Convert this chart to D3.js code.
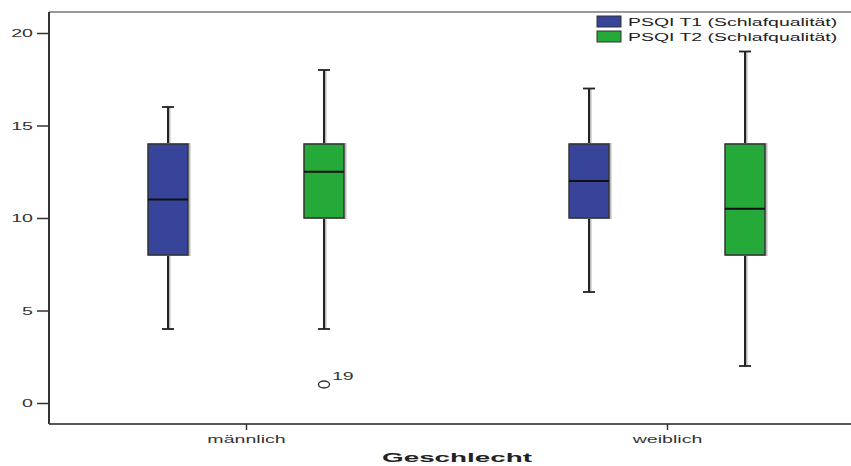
<!DOCTYPE html>
<html><head><meta charset="utf-8">
<script src="https://cdn.jsdelivr.net/npm/d3@7"></script>
<style>body{margin:0;background:#fff}svg{display:block}</style>
</head><body>
<svg id="c" width="851" height="466"></svg>
<script>
const groups = ["männlich", "weiblich"];
const seriesNames = ["PSQI T1 (Schlafqualität)", "PSQI T2 (Schlafqualität)"];
const seriesColors = ["#37449a", "#25a939"];
// [whiskerLow, q1, median, q3, whiskerHigh] per group
const t1Stats = [[4, 8, 11, 14, 16], [6, 10, 12, 14, 17]];
const t2Stats = [[4, 10, 12.5, 14, 18], [2, 8, 10.5, 14, 19]];
const outliers = [{group: "männlich", series: 1, value: 1, label: "19"}];
const yTicks = [0, 5, 10, 15, 20];

(function () {
const svg = d3.select("#c");
const L = 49, R = 851, T = 12, B = 424;
const SX = 1.78; // horizontal stretch of the text in the original picture
const y = d3.scaleLinear().domain([0, 20]).range([403, 33]);
const x = d3.scalePoint().domain(groups).range([L + 13, R]).padding(0.437);
const xs = d3.scalePoint().domain([0, 1]).range([-78, 78]);
const boxW = 40;
const font = "Liberation Sans, Arial, sans-serif";

function stretched(sel, px, py, sx) {
  return sel.attr("transform", `translate(${px},${py}) scale(${sx},1)`).attr("x", 0).attr("y", 0);
}

// frame
svg.append("line").attr("x1", L).attr("x2", R).attr("y1", T).attr("y2", T).attr("stroke", "#777").attr("stroke-width", 1.5);
svg.append("line").attr("x1", L).attr("x2", R).attr("y1", B).attr("y2", B).attr("stroke", "#555").attr("stroke-width", 2);
svg.append("line").attr("x1", L).attr("x2", L).attr("y1", T).attr("y2", B).attr("stroke", "#333").attr("stroke-width", 2);

// y axis
const yAxis = d3.axisLeft(y).tickValues(yTicks).tickSize(12).tickPadding(4);
const gy = svg.append("g").attr("transform", `translate(${L},0)`).call(yAxis);
gy.select(".domain").remove();
gy.selectAll(".tick line").attr("stroke", "#333").attr("stroke-width", 1.5);
gy.selectAll(".tick text").attr("font-family", font).attr("font-size", 11).attr("fill", "#333")
  .attr("dy", "0.36em").each(function () { stretched(d3.select(this), -16, 0, SX); });

// x axis
const xAxis = d3.axisBottom(x).tickSize(6).tickPadding(3);
const gx = svg.append("g").attr("transform", `translate(0,${B})`).call(xAxis);
gx.select(".domain").remove();
gx.selectAll(".tick line").attr("stroke", "#333").attr("stroke-width", 1.5);
gx.selectAll(".tick text").attr("font-family", font).attr("font-size", 11).attr("fill", "#333")
  .attr("dy", "0") .each(function () { stretched(d3.select(this), 0, 19, SX); });

stretched(svg.append("text"), 457, 462, 2.06).attr("text-anchor", "middle")
  .attr("font-family", font).attr("font-size", 13.5).attr("font-weight", "bold").attr("fill", "#222")
  .text("Geschlecht");

// boxes
const all = [];
groups.forEach((g, gi) => {
  [t1Stats, t2Stats].forEach((s, si) => all.push({g, si, s: s[gi]}));
});
const bx = d => x(d.g) + xs(d.si);
const cap = 6;
const gb = svg.append("g").selectAll("g").data(all).join("g");
gb.append("line").attr("x1", d => bx(d) + 1.5).attr("x2", d => bx(d) + 1.5)
  .attr("y1", d => y(d.s[4])).attr("y2", d => y(d.s[0])).attr("stroke", "#bbb").attr("stroke-width", 2);
gb.append("line").attr("x1", bx).attr("x2", bx)
  .attr("y1", d => y(d.s[4])).attr("y2", d => y(d.s[0])).attr("stroke", "#222").attr("stroke-width", 2);
[0, 4].forEach(k => {
  gb.append("line").attr("x1", d => bx(d) - cap).attr("x2", d => bx(d) + cap)
    .attr("y1", d => y(d.s[k])).attr("y2", d => y(d.s[k])).attr("stroke", "#222").attr("stroke-width", 1.8);
});
gb.append("rect").attr("x", d => bx(d) - boxW / 2 + 1.5).attr("width", boxW)
  .attr("y", d => y(d.s[3])).attr("height", d => y(d.s[1]) - y(d.s[3]))
  .attr("fill", "none").attr("stroke", "#bbb").attr("stroke-width", 2);
gb.append("rect").attr("x", d => bx(d) - boxW / 2).attr("width", boxW)
  .attr("y", d => y(d.s[3])).attr("height", d => y(d.s[1]) - y(d.s[3]))
  .attr("fill", d => seriesColors[d.si]).attr("stroke", "#333").attr("stroke-width", 1.5);
gb.append("line").attr("x1", d => bx(d) - boxW / 2).attr("x2", d => bx(d) + boxW / 2)
  .attr("y1", d => y(d.s[2])).attr("y2", d => y(d.s[2])).attr("stroke", "#111").attr("stroke-width", 2);

// outliers
outliers.forEach(o => {
  const cx = x(o.group) + xs(o.series);
  svg.append("ellipse").attr("cx", cx).attr("cy", y(o.value)).attr("rx", 5.5).attr("ry", 3.5)
    .attr("fill", "none").attr("stroke", "#333").attr("stroke-width", 1.4);
  stretched(svg.append("text"), cx + 8, y(o.value) - 5, SX).attr("font-family", font)
    .attr("font-size", 11).attr("fill", "#333").text(o.label);
});

// legend
const lg = svg.append("g").selectAll("g").data(seriesNames).join("g")
  .attr("transform", (d, i) => `translate(597,${16 + i * 15})`);
lg.append("rect").attr("width", 24).attr("height", 11).attr("fill", (d, i) => seriesColors[i]).attr("stroke", "#333").attr("stroke-width", 1);
lg.append("text").attr("font-family", font).attr("font-size", 11.5).attr("fill", "#222")
  .attr("transform", `translate(31,10) scale(${SX * 0.95},1)`).text(d => d);
})();
</script>
</body></html>
